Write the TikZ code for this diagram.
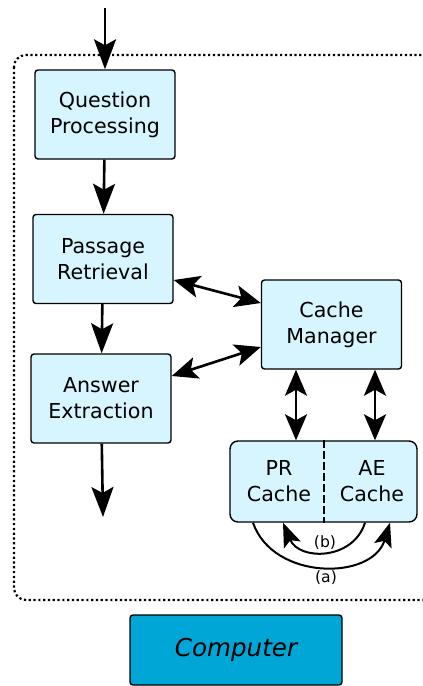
\documentclass[tikz,border=0pt]{standalone}
\usepackage{fontspec}
\setmainfont{DejaVu Sans}
\usetikzlibrary{arrows.meta}
\definecolor{boxfill}{RGB}{214,245,255}
\definecolor{pcfill}{RGB}{0,166,214}
\begin{document}
\begin{tikzpicture}[x=0.5pt,y=-0.5pt,
            box/.style={rectangle, draw, rounded corners=1.5pt, fill=boxfill, line width=0.7pt, minimum width=70pt, minimum height=44.5pt, text centered, font=\fontsize{10.3}{13}\selectfont, align=center},
            arrow/.style={-{Stealth[length=15pt,width=11pt,inset=3pt]}, line width=1.3pt},
            twoway/.style={{Stealth[length=13pt,width=11pt,inset=3pt]}-{Stealth[length=13pt,width=11pt,inset=3pt]}, line width=1.3pt},
            loop/.style={-{Stealth[length=12pt,width=9pt,inset=2.5pt]}, line width=1pt},
            tag/.style={font=\fontsize{7.8}{9}\selectfont, inner sep=1pt}
        ]
            \useasboundingbox (0,0) rectangle (423,686);
            \draw[line width=1.1pt, dash pattern=on 1.1pt off 1.3pt, rounded corners=6pt] (14,55) rectangle (445,600);

            \node[box] (qp) at (105,114.5) {Question\\Processing};
            \node[box] (pr) at (103,259) {Passage\\Retrieval};
            \node[box] (ae) at (101,398.5) {Answer\\Extraction};
            \node[box] (cm) at (331.5,324.5) {Cache\\Manager};
            \node[box, minimum width=93.5pt, minimum height=40.5pt, rounded corners=4pt] (cache) at (323.5,481.5) {};
            \node[font=\fontsize{10.3}{13}\selectfont, align=center] (prc) at (279,481.5) {PR\\Cache};
            \node[font=\fontsize{10.3}{13}\selectfont, align=center] (aec) at (372,481.5) {AE\\Cache};
            \node[box, fill=pcfill, minimum width=106pt, minimum height=35pt, font=\itshape\fontsize{12.3}{14}\selectfont] (pc) at (236,650) {Computer};
            \coordinate (in) at (105,8);
            \coordinate (out) at (103,517);

            \draw[line width=1pt, dash pattern=on 4pt off 1.5pt] (cache.north) -- (cache.south);

            \draw[arrow] (in) -- (qp);
            \draw[arrow] (qp) -- (pr);
            \draw[arrow] (pr) -- (ae);
            \draw[arrow] (ae) -- (out);
            \draw[twoway] ([yshift=-10.5pt]pr.east) -- ([yshift=10.75pt]cm.west);
            \draw[twoway] ([yshift=11.25pt]ae.east) -- ([yshift=-11.25pt]cm.west);
            \draw[twoway] ([xshift=-17.75pt]cm.south) -- ([xshift=-17.75pt]cm.south |- cache.north);
            \draw[twoway] ([xshift=21.75pt]cm.south) -- ([xshift=21.75pt]cm.south |- cache.north);

            \draw[loop] ([xshift=-35.25pt]cache.south) .. controls +(20,58) and +(-18,58) .. ([xshift=33.25pt]cache.south);
            \draw[loop] ([xshift=20.75pt]cache.south) .. controls +(-12,38) and +(16,38) .. ([xshift=-20.25pt]cache.south);
            \node[tag] (b) at (325,543) {(b)};
            \node[tag] (a) at (326,578) {(a)};
        \end{tikzpicture}
\end{document}
